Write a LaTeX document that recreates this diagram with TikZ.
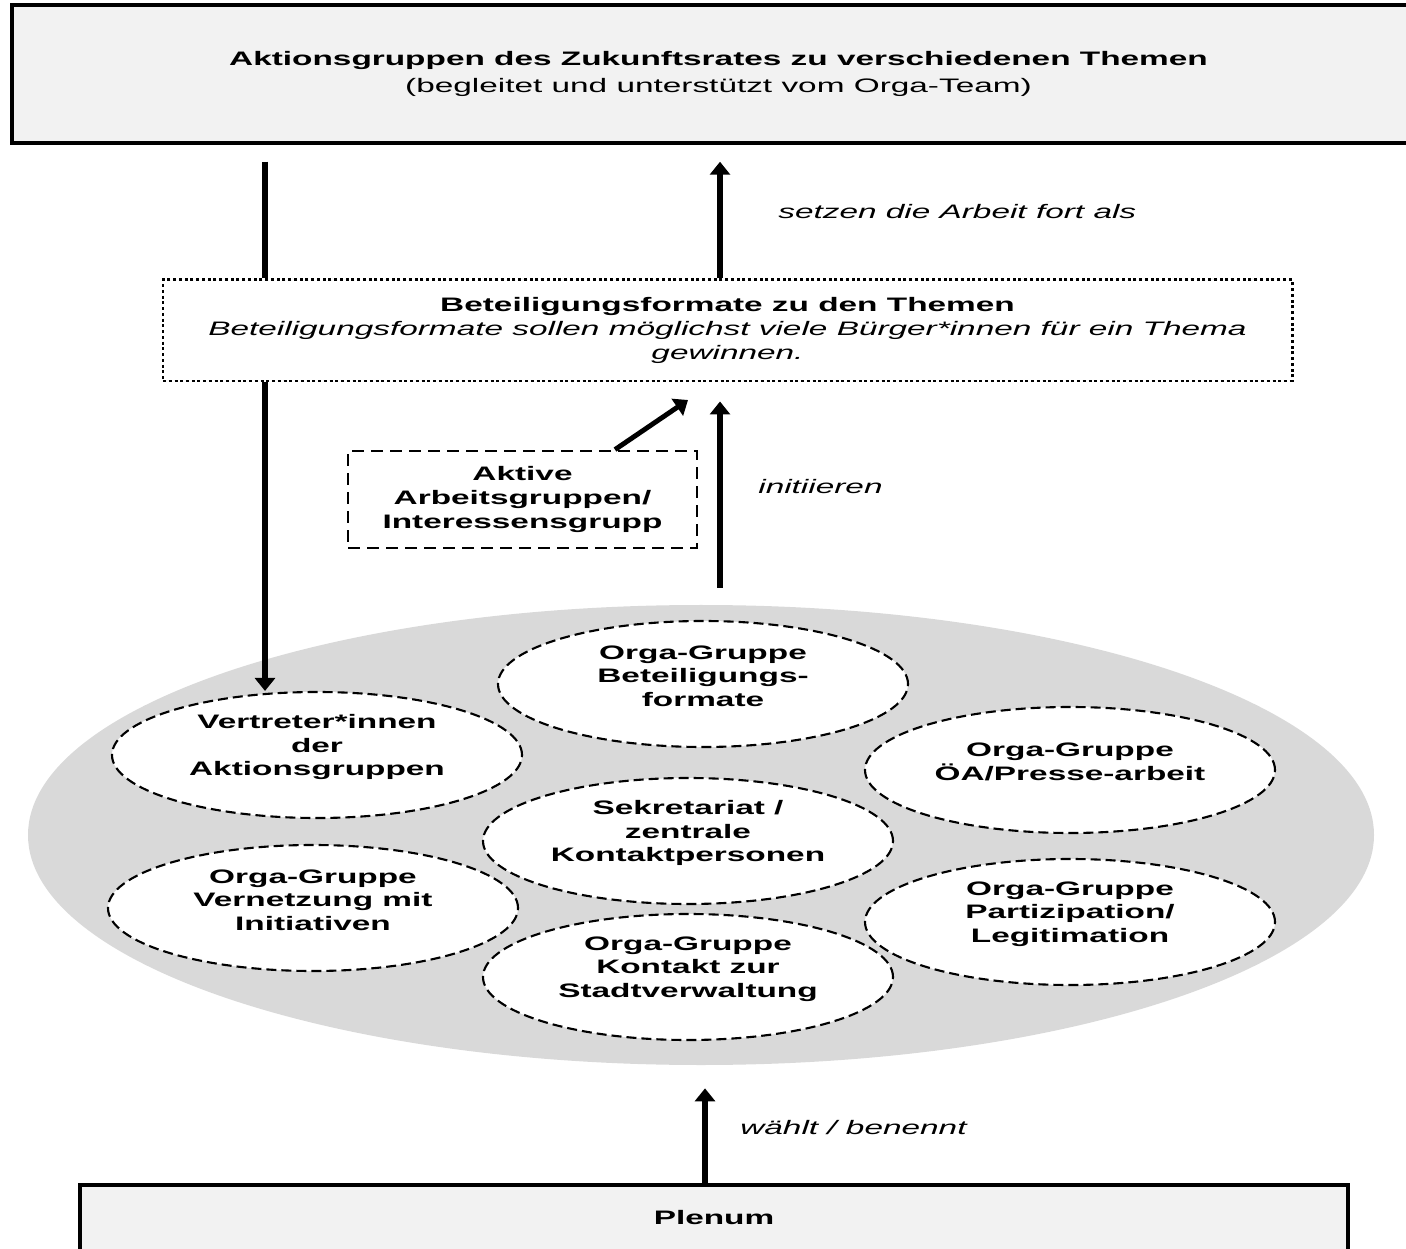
\documentclass[tikz,border=0pt]{standalone}
\usepackage{fontspec}
\setmainfont{Liberation Sans}[FakeStretch=1.71]
\usetikzlibrary{arrows.meta,shapes.geometric}

\begin{document}
\begin{tikzpicture}[
  frame/.style={draw=black,line width=2pt,fill=black!5,align=center,font=\fontsize{11.1}{13.4}\selectfont},
  dotbox/.style={draw=black,line width=1.7pt,dash pattern=on 0.06cm off 0.055cm,fill=white,align=center,font=\fontsize{11.1}{13.4}\selectfont},
  dashbox/.style={draw=black,line width=1.6pt,dash pattern=on 0.24cm off 0.14cm,fill=white,align=center,font=\fontsize{11.1}{13.4}\selectfont\bfseries},
  group/.style={ellipse,draw=black,line width=1.2pt,dash pattern=on 0.2cm off 0.1cm,fill=white,minimum width=8.2cm,minimum height=2.52cm},
  grouptext/.style={align=center,font=\fontsize{11.1}{13.4}\selectfont\bfseries},
  bar/.style={line width=3.1pt},
  flow/.style={line width=3.1pt,-{Triangle[length=0.26cm,width=0.4cm]}},
  note/.style={inner sep=0pt,font=\fontsize{11.1}{13.4}\selectfont\itshape},
]
\useasboundingbox (0,0) rectangle (28.12,24.96);

% Boxes
\node[frame,minimum width=28.26cm,minimum height=2.76cm] (aktion) at (14.37,23.48)
  {\textbf{Aktionsgruppen des Zukunftsrates zu verschiedenen Themen}\\[2pt](begleitet und unterstützt vom Orga-Team)};
\node[dotbox,minimum width=22.58cm,minimum height=2.02cm] (themen) at (14.55,18.35)
  {\textbf{Beteiligungsformate zu den Themen}\\\textit{Beteiligungsformate sollen möglichst viele Bürger*innen für ein Thema}\\\textit{gewinnen.}};
\node[dashbox,minimum width=6.98cm,minimum height=1.94cm] (aktiv) at (10.45,14.97)
  {Aktive\\Arbeitsgruppen/\\Interessensgrupp};
\node[frame,minimum width=25.36cm,minimum height=1.32cm] (plenum) at (14.28,0.6) {\textbf{Plenum}};

% Gremium with its groups
\node[ellipse,fill=black!15,minimum width=26.92cm,minimum height=9.2cm] (gremium) at (14.02,8.26) {};
\foreach \name/\x/\y/\txt in {
    formate/14.06/11.28/{Orga-Gruppe\\Beteiligungs-\\formate},
    vertreter/6.34/9.86/{Vertreter*innen\\der\\Aktionsgruppen},
    presse/21.4/9.56/{Orga-Gruppe\\ÖA/Presse-arbeit},
    sekretariat/13.76/8.14/{Sekretariat /\\zentrale\\Kontaktpersonen},
    vernetzung/6.26/6.8/{Orga-Gruppe\\Vernetzung mit\\Initiativen},
    partizipation/21.4/6.52/{Orga-Gruppe\\Partizipation/\\Legitimation},
    kontakt/13.76/5.42/{Orga-Gruppe\\Kontakt zur\\Stadtverwaltung}}{
  \node[group] (\name) at (\x,\y) {};
  \node[grouptext] (\name-text) at ([yshift=0.16cm]\name.center) {\txt};
}

% Labels
\node[note,anchor=west] (fort) at (15.56,20.72) {setzen die Arbeit fort als};
\node[note,anchor=west] (init) at (15.16,15.22) {initiieren};
\node[note,anchor=west] (waehlt) at (14.8,2.4) {wählt / benennt};

% Arrows
\coordinate (lx) at (5.3,0);
\coordinate (rx) at (14.4,0);
\coordinate (px) at (14.1,0);
\coordinate (diagtip) at (13.76,16.96);
\draw[bar,shorten <=0.34cm] (aktion.south -| lx) -- (themen.north -| lx);
\draw[flow] (themen.south -| lx) -- (vertreter.north -| lx);
\draw[flow,shorten >=0.34cm] (themen.north -| rx) -- (aktion.south -| rx);
\draw[flow,shorten <=0.34cm,shorten >=0.38cm] (gremium.north -| rx) -- (themen.south -| rx);
\draw[flow,line width=2.8pt] ([xshift=1.85cm]aktiv.north) -- (diagtip);
\draw[flow,shorten >=0.46cm] (plenum.north -| px) -- (gremium.south -| px);

\end{tikzpicture}
\end{document}
